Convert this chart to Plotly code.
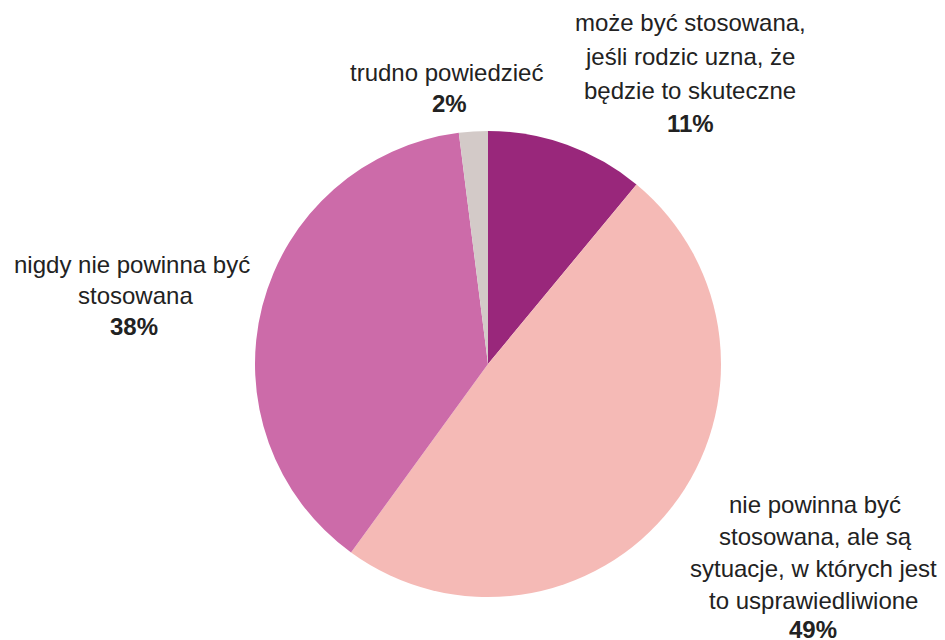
import plotly.graph_objects as go

# Data
categories = [
    "może być stosowana, jeśli rodzic uzna, że będzie to skuteczne",
    "nie powinna być stosowana, ale są sytuacje, w których jest to usprawiedliwione",
    "nigdy nie powinna być stosowana",
    "trudno powiedzieć",
]
values = [11, 49, 38, 2]
label_lines = [
    ["może być stosowana,", "jeśli rodzic uzna, że", "będzie to skuteczne"],
    ["nie powinna być", "stosowana, ale są", "sytuacje, w których jest", "to usprawiedliwione"],
    ["nigdy nie powinna być", "stosowana"],
    ["trudno powiedzieć"],
]

# Styles
colors = ["#99277B", "#F5BAB6", "#CC6BA9", "#D3CAC8"]
W, H = 945, 640
# label layout: (center x px, list of line center y px) — last y is the percentage line
label_pos = [
    (690, [22, 56, 90, 124]),
    (813, [504, 536, 568, 600, 629]),
    (134, [264, 295, 326]),
    (447, [73, 104]),
]
line_x_offsets = [
    [0, 0, 0, 0],
    [2, 2, 0, 0, 0],
    [-2, 1, 0],
    [-1, 2],
]

fig = go.Figure(go.Pie(
    labels=categories,
    values=values,
    marker=dict(colors=colors, line=dict(width=0)),
    sort=False,
    direction="clockwise",
    rotation=0,
    textinfo="none",
    hoverinfo="label+percent",
    showlegend=False,
    domain=dict(x=[255 / W, 721 / W], y=[1 - 597 / H, 1 - 131 / H]),
))

annotations = []
for i, (lines, v) in enumerate(zip(label_lines, values)):
    cx, ys = label_pos[i]
    texts = lines + [f"<b>{v}%</b>"]
    for j, (t, y) in enumerate(zip(texts, ys)):
        annotations.append(dict(
            x=(cx + line_x_offsets[i][j]) / W, y=1 - y / H,
            xref="paper", yref="paper",
            xanchor="center", yanchor="middle",
            text=t, showarrow=False,
            font=dict(family="Liberation Sans, Arial, sans-serif", size=24, color="#222222"),
        ))

fig.update_layout(
    width=W, height=H,
    margin=dict(l=0, r=0, t=0, b=0),
    paper_bgcolor="white",
    plot_bgcolor="white",
    annotations=annotations,
)

fig.write_html(
    "out.html",
    config={"displayModeBar": False},
    post_script="document.body.style.margin='0';document.body.style.overflow='hidden';",
)
